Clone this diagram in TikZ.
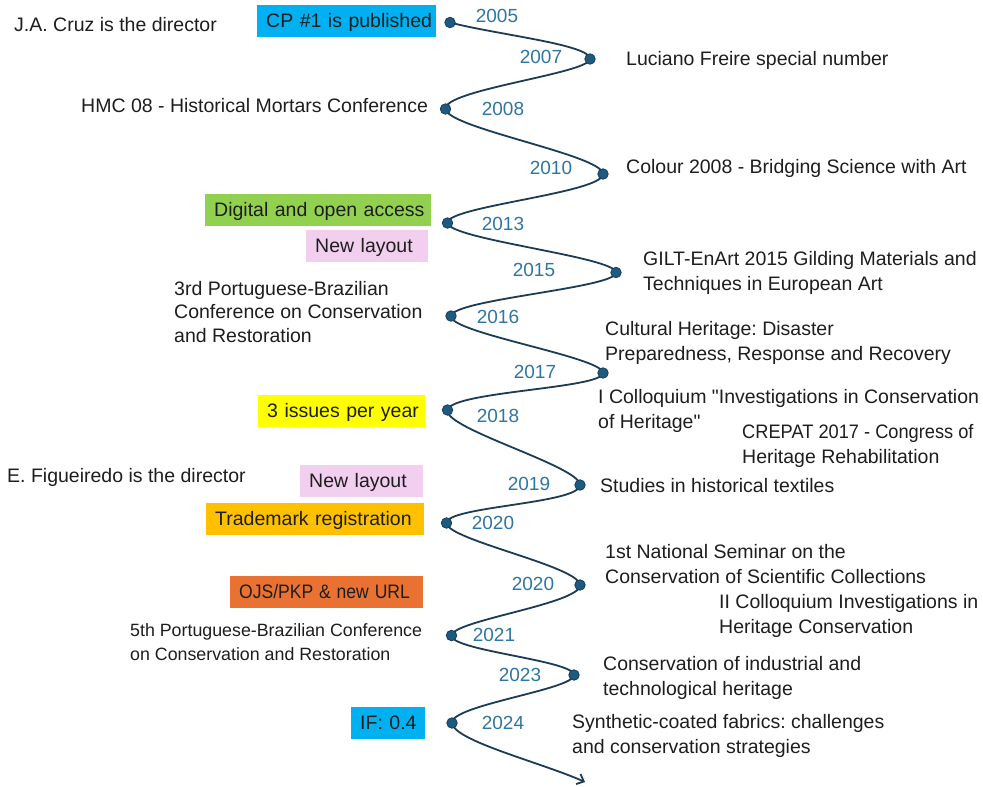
\documentclass[tikz,border=0pt]{standalone}
\usepackage{fontspec}
\usepackage{graphicx}
\setmainfont{Liberation Sans}[Ligatures=TeXOff]
\usetikzlibrary{arrows.meta}
\definecolor{linec}{HTML}{1C3B54}
\definecolor{dotc}{HTML}{1E5A80}
\definecolor{dotd}{HTML}{163F5C}
\definecolor{yearc}{HTML}{2F76A2}
\definecolor{txtc}{HTML}{1E1E1E}
\definecolor{cyanbox}{HTML}{00B0F0}
\definecolor{greenbox}{HTML}{92D050}
\definecolor{pinkbox}{HTML}{F2CEEF}
\definecolor{yellowbox}{HTML}{FFFF00}
\definecolor{goldbox}{HTML}{FFC000}
\definecolor{orangebox}{HTML}{E97132}
\newcommand\mystrut{\rule[-6pt]{0pt}{24pt}}
\newcommand\tagtext[1]{\mbox{\mystrut #1}}
\frenchspacing
\begin{document}
\frenchspacing
\begin{tikzpicture}[x=1pt,y=-1pt,
  evt/.style={anchor=west, inner sep=0pt, align=left, font=\fontsize{19.5}{23.5}\selectfont\frenchspacing, text=txtc},
  yr/.style={inner sep=0pt, font=\fontsize{19}{23.5}\selectfont, text=yearc},
  tag/.style={anchor=north west, inner xsep=9pt, inner ysep=0pt, minimum height=32pt, text width=#1, align=left, font=\fontsize{19.5}{23.5}\selectfont\frenchspacing, text=txtc},
  tldot/.style={circle, fill=dotc, draw=dotd, line width=0.8pt, minimum size=10.5pt, inner sep=0pt},
  wave/.style={draw=linec, line width=1.8pt}
]
\fill[white] (0,0) rectangle (983,787);
\useasboundingbox (0,0) rectangle (983,787);

% timeline points
\coordinate (p0) at (450,22.5);
\coordinate (p1) at (590,59);
\coordinate (p2) at (445.5,109);
\coordinate (p3) at (603,174);
\coordinate (p4) at (447.5,223);
\coordinate (p5) at (616,272.5);
\coordinate (p6) at (451,316);
\coordinate (p7) at (603,373);
\coordinate (p8) at (447.5,410);
\coordinate (p9) at (580,485);
\coordinate (p10) at (446.5,523);
\coordinate (p11) at (580,585);
\coordinate (p12) at (451.5,635.5);
\coordinate (p13) at (574,675);
\coordinate (p14) at (452,723);
\coordinate (p15) at (585,782);

\draw[wave, -{Straight Barb[length=6pt,width=11pt]}]
  (p0) .. controls +(46.7,12.2) and +(0.75,-14.42) .. (p1)
       .. controls +(-0.75,14.42) and +(-2.17,-19.17) .. (p2)
       .. controls +(2.17,19.17) and +(-0.33,-19) .. (p3)
       .. controls +(0.33,19) and +(-2.17,-16.42) .. (p4)
       .. controls +(2.17,16.42) and +(-0.58,-15.5) .. (p5)
       .. controls +(0.58,15.5) and +(2.17,-16.75) .. (p6)
       .. controls +(-2.17,16.75) and +(0.58,-15.67) .. (p7)
       .. controls +(-0.58,15.67) and +(3.83,-18.67) .. (p8)
       .. controls +(-3.83,18.67) and +(0.17,-18.83) .. (p9)
       .. controls +(-0.17,18.83) and +(0,-16.67) .. (p10)
       .. controls +(0,16.67) and +(-0.83,-18.75) .. (p11)
       .. controls +(0.83,18.75) and +(1,-15) .. (p12)
       .. controls +(-1,15) and +(-0.08,-14.58) .. (p13)
       .. controls +(0.08,14.58) and +(-1.83,-17.83) .. (p14)
       .. controls +(1.83,17.83) and +(-44.3,-19.7) .. (p15);

\foreach \i in {0,...,14} { \node[tldot] (d\i) at (p\i) {}; }

% years
\node[yr] (y0) at (497,17) {\mystrut 2005};
\node[yr] (y1) at (541,57) {\mystrut 2007};
\node[yr] (y2) at (503,109) {\mystrut 2008};
\node[yr] (y3) at (551,168) {\mystrut 2010};
\node[yr] (y4) at (503,224) {\mystrut 2013};
\node[yr] (y5) at (534,270.5) {\mystrut 2015};
\node[yr] (y6) at (498,317) {\mystrut 2016};
\node[yr] (y7) at (535,372) {\mystrut 2017};
\node[yr] (y8) at (498,416.5) {\mystrut 2018};
\node[yr] (y9) at (529,484) {\mystrut 2019};
\node[yr] (y10) at (493,523.5) {\mystrut 2020};
\node[yr] (y11) at (533,584) {\mystrut 2020};
\node[yr] (y12) at (494,635.5) {\mystrut 2021};
\node[yr] (y13) at (520,675) {\mystrut 2023};
\node[yr] (y14) at (503,723) {\mystrut 2024};

% coloured tags
\node[tag=161pt, fill=cyanbox] (tcp) at (257,5) {\tagtext{CP \#1 is published}};
\node[tag=208pt, fill=greenbox] (tdig) at (205,194) {\tagtext{Digital and open access}};
\node[tag=104pt, fill=pinkbox] (tlay1) at (306,230) {\tagtext{New layout}};
\node[tag=149pt, fill=yellowbox] (tiss) at (258,395) {\tagtext{3 issues per year}};
\node[tag=105pt, fill=pinkbox] (tlay2) at (300,465) {\tagtext{New layout}};
\node[tag=200pt, fill=goldbox] (ttm) at (206,503) {\tagtext{Trademark registration}};
\node[tag=175pt, fill=orangebox] (tojs) at (230,576) {\tagtext{\scalebox{0.9}[1]{OJS/PKP \& new URL}}};
\node[tag=56pt, fill=cyanbox] (tif) at (351,707) {\tagtext{IF: 0.4}};

% events
\node[evt] (ecruz) at (14,25) {\mystrut J.A. Cruz is the director\mystrut};
\node[evt] (eluc) at (626,59) {\mystrut Luciano Freire special number\mystrut};
\node[evt] (ehmc) at (81,106) {\mystrut HMC 08 - Historical Mortars Conference\mystrut};
\node[evt] (ecol) at (626,167) {\mystrut Colour 2008 - Bridging Science with Art\mystrut};
\node[evt] (egilt) at (643,271.5) {\mystrut GILT-EnArt 2015 Gilding Materials and\\Techniques in European Art\mystrut};
\node[evt] (e3rd) at (174,312.5) {\mystrut 3rd Portuguese-Brazilian\\Conference on Conservation\\and Restoration\mystrut};
\node[evt] (ecult) at (605,341.5) {\mystrut Cultural Heritage: Disaster\\Preparedness, Response and Recovery\mystrut};
\node[evt] (eicol) at (598,409.5) {\mystrut I Colloquium "Investigations in Conservation\\of Heritage"\mystrut};
\node[evt] (ecre) at (742,444.5) {\mystrut\scalebox{0.935}[1]{CREPAT 2017 - Congress of}\\Heritage Rehabilitation\mystrut};
\node[evt] (efig) at (7,476) {\mystrut E. Figueiredo is the director\mystrut};
\node[evt] (estu) at (600,486) {\mystrut Studies in historical textiles\mystrut};
\node[evt] (enat) at (605,564.5) {\mystrut 1st National Seminar on the\\Conservation of Scientific Collections\mystrut};
\node[evt] (eiicol) at (719,615) {\mystrut II Colloquium Investigations in\\Heritage Conservation\mystrut};
\node[evt, font=\fontsize{17.8}{24}\selectfont\frenchspacing] (e5th) at (130,642) {\mystrut 5th Portuguese-Brazilian Conference\\on Conservation and Restoration\mystrut};
\node[evt] (eind) at (603,677) {\mystrut Conservation of industrial and\\technological heritage\mystrut};
\node[evt] (esyn) at (572,735) {\mystrut Synthetic-coated fabrics: challenges\\and conservation strategies\mystrut};
\end{tikzpicture}
\end{document}
